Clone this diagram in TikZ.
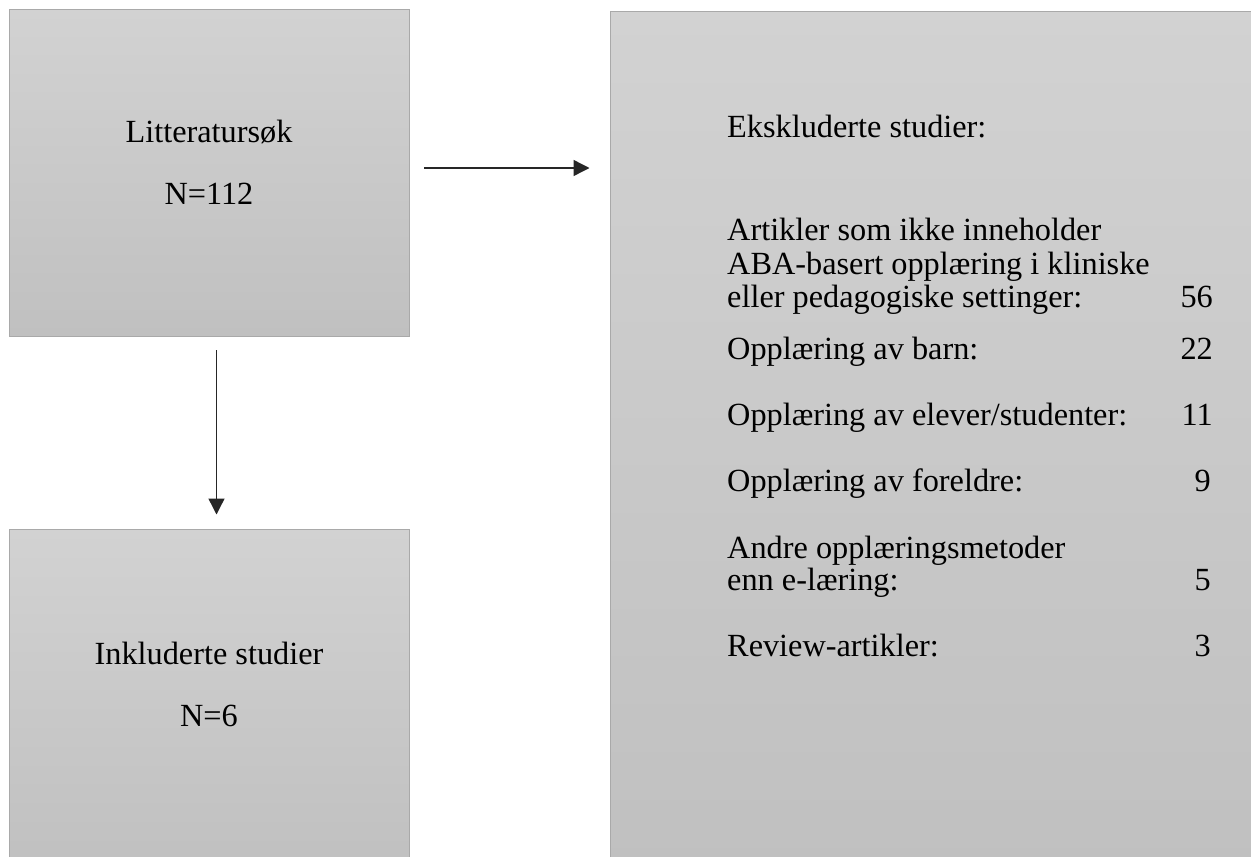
\documentclass[tikz,border=0pt]{standalone}
\usepackage{fontspec}
\setmainfont{Liberation Serif}
\usetikzlibrary{arrows.meta}
\definecolor{boxtop}{HTML}{D2D2D2}
\definecolor{boxbot}{HTML}{C0C0C0}
\definecolor{boxline}{HTML}{A9A9A9}
\tikzset{
  flowbox/.style={draw=boxline, line width=1pt, top color=boxtop, bottom color=boxbot,
    rectangle, inner sep=0pt},
  txt/.style={inner sep=0pt, font=\fontsize{32.3}{34}\selectfont},
  arr/.style={line width=1.4pt, draw=black!85, -{Triangle[length=16pt,width=16pt]}}
}
\begin{document}
\begin{tikzpicture}[x=1pt,y=-1pt]
\clip (0,0) rectangle (1251,857);
\fill[white] (0,0) rectangle (1251,857);
% boxes
\node[flowbox, minimum width=400pt, minimum height=327pt] (lit) at (209.5,173) {};
\node[flowbox, minimum width=400pt, minimum height=340pt] (inc) at (209.5,699) {};
\node[flowbox, minimum width=660pt, minimum height=860pt] (ex) at (940,441) {};
% box texts
\node[txt, anchor=base] (t1) at (209,142.5) {Litteratursøk};
\node[txt, anchor=base] (t2) at (209,204) {N=112};
\node[txt, anchor=base] (t3) at (209,664) {Inkluderte studier};
\node[txt, anchor=base] (t4) at (209,726.5) {N=6};
\node[txt, anchor=base west] (e0) at (727,137.5) {Ekskluderte studier:};
\node[txt, anchor=base west] (e1) at (727,240.5) {Artikler som ikke inneholder};
\node[txt, anchor=base west] (e2) at (727,274) {ABA-basert opplæring i kliniske};
\node[txt, anchor=base west] (e3) at (727,307.5) {eller pedagogiske settinger:};
\node[txt, anchor=base east] (n3) at (1213,307.5) {56};
\node[txt, anchor=base west] (e4) at (727,359.5) {Opplæring av barn:};
\node[txt, anchor=base east] (n4) at (1213,359.5) {22};
\node[txt, anchor=base west] (e5) at (727,425.5) {Opplæring av elever/studenter:};
\node[txt, anchor=base east] (n5) at (1213,425.5) {11};
\node[txt, anchor=base west] (e6) at (727,491.5) {Opplæring av foreldre:};
\node[txt, anchor=base east] (n6) at (1211,491.5) {9};
\node[txt, anchor=base west] (e7) at (727,558.5) {Andre opplæringsmetoder};
\node[txt, anchor=base west] (e8) at (727,590.5) {enn e-læring:};
\node[txt, anchor=base east] (n8) at (1211,590.5) {5};
\node[txt, anchor=base west] (e9) at (727,656.5) {Review-artikler:};
\node[txt, anchor=base east] (n9) at (1211,656.5) {3};
% arrows
\coordinate (hA) at ([xshift=14pt,yshift=5pt]lit.east);
\coordinate (hB) at ([xshift=-20pt]ex.west |- hA);
\draw[arr] (hA) -- (hB);
\draw[arr] ([xshift=7pt,yshift=-13pt]lit.south) -- ([xshift=7pt,yshift=14pt]inc.north);
\end{tikzpicture}
\end{document}
